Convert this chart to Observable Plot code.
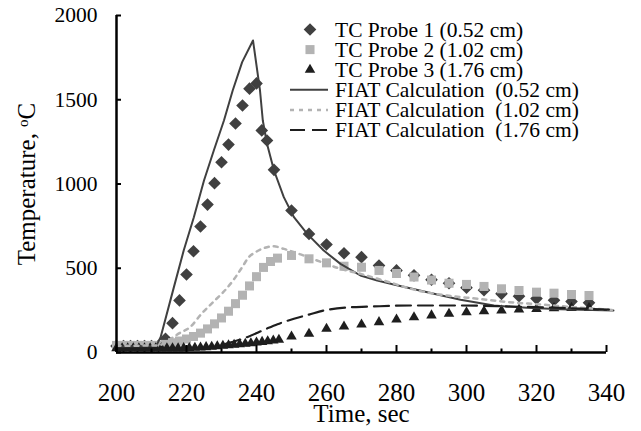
<!DOCTYPE html>
<html><head><meta charset="utf-8">
<script src="https://cdn.jsdelivr.net/npm/d3@7"></script>
<script src="https://cdn.jsdelivr.net/npm/@observablehq/plot@0.6"></script>
<style>body{margin:0;background:#fff;} #chart svg{display:block;}</style>
</head><body><div id="chart"></div>
<script>
// ---- data ----
const p1Time = [200,202,204,206,208,210,212,214,216,218,220,222,224,226,228,230,232,234,236,238,240,241.5,243,245,250,255,260,265,270,275,280,285,290,295,300,305,310,315,320,325,330,335];
const p1Temp = [38,38,38,38,38,38,40,81,174,309,463,601,748,878,1005,1129,1234,1359,1466,1566,1597,1318,1258,1084,843,704,641,589,566,516,487,458,432,411,385,370,348,334,320,310,302,295];

const p2Time = [200,202,204,206,208,210,212,214,216,218,220,222,224,226,228,230,232,234,236,238,240,242,244,246,250,255,260,265,270,275,280,285,290,295,300,305,310,315,320,325,330,335];
const p2Temp = [42,42,42,42,42,42,42,48,58,68,80,95,115,140,170,205,245,290,340,395,450,505,540,560,576,556,532,512,506,487,469,448,430,411,404,392,378,368,358,352,344,338];

const p3Time = [200,201.6,203.2,204.8,206.4,208,209.6,211.2,212.8,214.4,216,217.6,219.2,220.8,222.4,224,225.6,227.2,228.8,230.4,232,233.6,235.2,236.8,238.4,240,241.6,243.2,244.8,246.4,250,255,260,265,270,275,280,285,290,295,300,305,310,315,320,325,330,335];
const p3Temp = [25,25,25,25,25,25,25,25,25,25,25,25,26,27,28,30,32,34,37,40,43,46,49,52,55,59,63,67,71,76,95,111,141,154,166,180,196,209,220,230,239,245,249,255,259,263,265,265];

const f1Time = [200,211.3,212.6,216.4,219.2,222.1,225,227.8,230.7,233.2,235.9,239,241,241.8,243,245,247.8,250.7,254.5,259.2,264,269.7,274.5,279.2,288.8,298.3,307.8,317.3,326.9,342];
const f1Temp = [35,38,91,388,605,803,1021,1199,1377,1555,1723,1852,1555,1377,1239,1080,922,803,704,605,526,457,427,404,358,313,279,265,257,249];

const f2Time = [200,212,214,216,218,221,224.3,227.6,230.5,233.3,235.9,237.8,239.7,243,245,247.8,252.6,257.3,264,270,277,286,294.5,303.1,312.1,321.1,330.7,342];
const f2Temp = [40,42,60,88,115,150,230,299,358,427,506,566,595,625,630,615,582,546,497,465,423,368,338,319,299,285,269,252];

const f3Time = [200,224,228,231,234,237.3,242.5,246,250.7,255,259.2,266.9,271.6,284,298.3,312.6,326.9,342];
const f3Temp = [20,22,30,50,68,91,138,168,200,225,249,269,272,279,279,273,265,253];

const xTicks = [200,220,240,260,280,300,320,340];
const xMinorTicks = [210,230,250,270,290,310,330];
const yTicks = [0,500,1000,1500,2000];

const legendLabels = [
  "TC Probe 1 (0.52 cm)",
  "TC Probe 2 (1.02 cm)",
  "TC Probe 3 (1.76 cm)",
  "FIAT Calculation  (0.52 cm)",
  "FIAT Calculation  (1.02 cm)",
  "FIAT Calculation  (1.76 cm)"
];
const xTitle = "Time, sec";
const yTitleMain = "Temperature, ";
const yTitleSup = "o";
const yTitleEnd = "C";

// ---- layout & style ----
const W = 641, H = 431, mL = 116, mR = 35, mT = 15, mB = 79;
const plotW = W - mL - mR, plotH = H - mT - mB;
const FONT = "'Liberation Serif','Times New Roman',serif";
const C1 = "#404040", C2 = "#b3b3b3", C3 = "#1e1e1e";
const R1 = 5.7, R2 = 5.1, R3 = 3.9;

const rows = (xs, ys) => xs.map((x, i) => ({x, y: ys[i]}));

const chart = Plot.plot({
  width: W, height: H,
  marginLeft: mL, marginRight: mR, marginTop: mT, marginBottom: mB,
  style: {fontFamily: FONT, background: "#fff", color: "#000", overflow: "visible"},
  x: {domain: [200, 340]},
  y: {domain: [0, 2000]},
  marks: [
    Plot.dot(rows(p1Time, p1Temp), {x: "x", y: "y", symbol: "diamond2", r: R1, fill: C1, stroke: "none"}),
    Plot.dot(rows(p2Time, p2Temp), {x: "x", y: "y", symbol: "square", r: R2, fill: C2, stroke: "none"}),
    Plot.dot(rows(p3Time, p3Temp), {x: "x", y: "y", symbol: "triangle", r: R3, fill: C3, stroke: "none"}),
    Plot.line(rows(f1Time, f1Temp), {x: "x", y: "y", stroke: C1, strokeWidth: 2}),
    Plot.line(rows(f2Time, f2Temp), {x: "x", y: "y", stroke: C2, strokeWidth: 2.5, strokeDasharray: "4,5", curve: "monotone-x"}),
    Plot.line(rows(f3Time, f3Temp), {x: "x", y: "y", stroke: C3, strokeWidth: 2.2, strokeDasharray: "15,7", curve: "monotone-x"}),
    // axes lines and inward ticks
    Plot.ruleX([200], {stroke: "#000", strokeWidth: 2.5}),
    Plot.ruleY([0], {stroke: "#000", strokeWidth: 2.5}),
    Plot.tickY(yTicks, {y: d => d, insetRight: plotW - 5, stroke: "#000", strokeWidth: 2}),
    Plot.tickX(xTicks, {x: d => d, insetTop: plotH - 7, stroke: "#000", strokeWidth: 2}),
    Plot.tickX(xMinorTicks, {x: d => d, insetTop: plotH - 3.5, stroke: "#000", strokeWidth: 2}),
    Plot.axisY({ticks: yTicks, tickSize: 0, tickPadding: 19, fontSize: 21.5, label: null, tickFormat: d => String(d)}),
    Plot.axisX({ticks: xTicks, tickSize: 0, tickPadding: 31, fontSize: 25, label: null, tickFormat: d => String(d)}),
    Plot.text([xTitle], {text: d => d, frameAnchor: "bottom", lineAnchor: "middle", dy: 61, fontSize: 25, fill: "#000"}),
    Plot.text([yTitleMain + yTitleSup + yTitleEnd], {text: d => d, frameAnchor: "left", lineAnchor: "middle", textAnchor: "middle", dx: -90, rotate: -90, fontSize: 25, fill: "#000"})
  ]
});

document.getElementById("chart").appendChild(chart);

// superscript "o" in the y title
const svg = d3.select(chart);
svg.selectAll("text").each(function() {
  const t = d3.select(this);
  if (t.text() === yTitleMain + yTitleSup + yTitleEnd) {
    t.text(null);
    t.append("tspan").text(yTitleMain);
    t.append("tspan").attr("dy", "-0.45em").attr("font-size", "0.6em").text(yTitleSup);
    t.append("tspan").attr("dy", "0.27em").text(yTitleEnd);
  }
});

// ---- legend ----
const lg = svg.append("g").attr("font-family", FONT).attr("font-size", 21.5).attr("fill", "#000").attr("text-anchor", "start");
const rowY = i => 29.5 + i * 20.1;
const symX = 310, lineX1 = 290, lineX2 = 328, textX = 335;
const symDefs = [
  [d3.symbolDiamond2, R1, C1],
  [d3.symbolSquare, R2, C2],
  [d3.symbolTriangle, R3, C3]
];
symDefs.forEach(([s, r, c], i) => {
  lg.append("path")
    .attr("d", d3.symbol(s, Math.PI * r * r)())
    .attr("transform", `translate(${symX},${rowY(i)})`)
    .attr("fill", c);
});
const lineDefs = [
  [C1, 2, null],
  [C2, 2.5, "4,5"],
  [C3, 2.2, "15,7"]
];
lineDefs.forEach(([c, w, dash], j) => {
  const i = j + 3;
  const l = lg.append("line")
    .attr("x1", lineX1).attr("x2", lineX2)
    .attr("y1", rowY(i)).attr("y2", rowY(i))
    .attr("stroke", c).attr("stroke-width", w);
  if (dash) l.attr("stroke-dasharray", dash);
});
legendLabels.forEach((lab, i) => {
  lg.append("text")
    .attr("x", textX).attr("y", rowY(i)).attr("dy", "0.33em")
    .attr("text-anchor", "start")
    .style("white-space", "pre")
    .text(lab);
});
</script>
</body></html>
